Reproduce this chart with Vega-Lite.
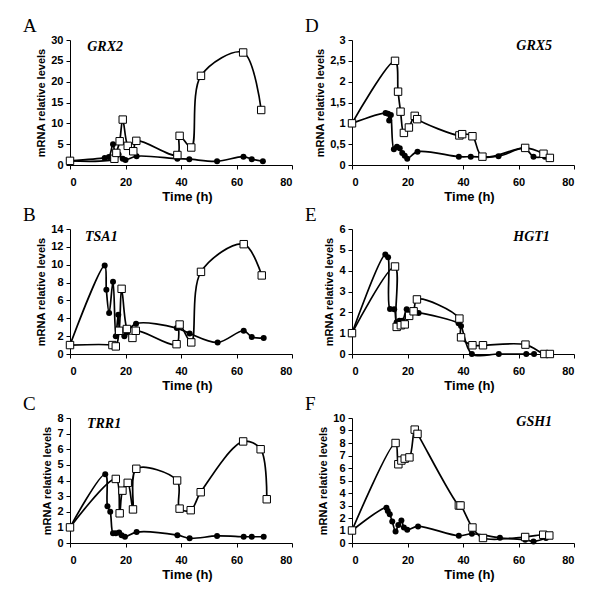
{
  "$schema": "https://vega.github.io/schema/vega-lite/v6.json",
  "background": "white",
  "padding": {"left": 23, "top": 17, "right": 2, "bottom": 2},
  "datasets": {
    "A": [
      {"series": "closed", "time": 0, "level": 1}, {"series": "closed", "time": 12.5, "level": 1.7}, {"series": "closed", "time": 14, "level": 1.9}, {"series": "closed", "time": 15.5, "level": 5}, {"series": "closed", "time": 16.5, "level": 2.1}, {"series": "closed", "time": 17.5, "level": 2.5}, {"series": "closed", "time": 19, "level": 1.5}, {"series": "closed", "time": 20, "level": 1.2}, {"series": "closed", "time": 24, "level": 2.1}, {"series": "closed", "time": 38.7, "level": 1.5}, {"series": "closed", "time": 43, "level": 1.4}, {"series": "closed", "time": 53, "level": 0.9}, {"series": "closed", "time": 62.5, "level": 2.0}, {"series": "closed", "time": 65.5, "level": 1.4}, {"series": "closed", "time": 69.5, "level": 0.9},
      {"series": "open", "time": 0, "level": 1}, {"series": "open", "time": 16, "level": 1.5}, {"series": "open", "time": 16.7, "level": 2.9}, {"series": "open", "time": 17.9, "level": 5.7}, {"series": "open", "time": 19, "level": 10.9}, {"series": "open", "time": 20.8, "level": 4.6}, {"series": "open", "time": 22.8, "level": 3.3}, {"series": "open", "time": 23.9, "level": 5.8}, {"series": "open", "time": 38.7, "level": 2.4}, {"series": "open", "time": 39.5, "level": 7.0}, {"series": "open", "time": 43.7, "level": 4.2}, {"series": "open", "time": 47.2, "level": 21.4}, {"series": "open", "time": 62.4, "level": 27}, {"series": "open", "time": 68.9, "level": 13.2}
    ],
    "B": [
      {"series": "closed", "time": 0, "level": 1}, {"series": "closed", "time": 12.5, "level": 9.9}, {"series": "closed", "time": 13.1, "level": 7.2}, {"series": "closed", "time": 14.1, "level": 4.6}, {"series": "closed", "time": 15.5, "level": 8.1}, {"series": "closed", "time": 16.5, "level": 2.0}, {"series": "closed", "time": 17.4, "level": 4.4}, {"series": "closed", "time": 18, "level": 2.6}, {"series": "closed", "time": 19.6, "level": 2.0}, {"series": "closed", "time": 20.5, "level": 2.4}, {"series": "closed", "time": 23.8, "level": 3.4}, {"series": "closed", "time": 38.5, "level": 2.9}, {"series": "closed", "time": 43.1, "level": 2.3}, {"series": "closed", "time": 53.2, "level": 1.3}, {"series": "closed", "time": 62.6, "level": 2.6}, {"series": "closed", "time": 65.5, "level": 1.9}, {"series": "closed", "time": 69.8, "level": 1.8},
      {"series": "open", "time": 0, "level": 1}, {"series": "open", "time": 15.3, "level": 1.0}, {"series": "open", "time": 16.5, "level": 0.85}, {"series": "open", "time": 17.7, "level": 2.6}, {"series": "open", "time": 18.6, "level": 7.3}, {"series": "open", "time": 20.5, "level": 2.8}, {"series": "open", "time": 22.5, "level": 1.8}, {"series": "open", "time": 23.7, "level": 2.6}, {"series": "open", "time": 38.4, "level": 1.1}, {"series": "open", "time": 39.5, "level": 3.3}, {"series": "open", "time": 43.7, "level": 1.3}, {"series": "open", "time": 47.2, "level": 9.2}, {"series": "open", "time": 62.6, "level": 12.3}, {"series": "open", "time": 69.1, "level": 8.8}
    ],
    "C": [
      {"series": "closed", "time": 0, "level": 1}, {"series": "closed", "time": 12.7, "level": 4.4}, {"series": "closed", "time": 13.5, "level": 2.35}, {"series": "closed", "time": 14.5, "level": 2.0}, {"series": "closed", "time": 15.5, "level": 0.62}, {"series": "closed", "time": 16.5, "level": 0.62}, {"series": "closed", "time": 17.7, "level": 0.67}, {"series": "closed", "time": 18.6, "level": 0.5}, {"series": "closed", "time": 19.8, "level": 0.4}, {"series": "closed", "time": 24, "level": 0.7}, {"series": "closed", "time": 38.7, "level": 0.5}, {"series": "closed", "time": 43.1, "level": 0.3}, {"series": "closed", "time": 53, "level": 0.45}, {"series": "closed", "time": 62.6, "level": 0.4}, {"series": "closed", "time": 65.5, "level": 0.4}, {"series": "closed", "time": 69.8, "level": 0.4},
      {"series": "open", "time": 0, "level": 1}, {"series": "open", "time": 16.5, "level": 4.1}, {"series": "open", "time": 17.9, "level": 1.9}, {"series": "open", "time": 18.9, "level": 3.35}, {"series": "open", "time": 20.8, "level": 3.85}, {"series": "open", "time": 22.7, "level": 2.15}, {"series": "open", "time": 23.9, "level": 4.75}, {"series": "open", "time": 38.6, "level": 4.0}, {"series": "open", "time": 39.5, "level": 2.2}, {"series": "open", "time": 43.5, "level": 2.1}, {"series": "open", "time": 47.1, "level": 3.25}, {"series": "open", "time": 62.4, "level": 6.5}, {"series": "open", "time": 68.7, "level": 6.0}, {"series": "open", "time": 70.9, "level": 2.8}
    ],
    "D": [
      {"series": "closed", "time": 0, "level": 1}, {"series": "closed", "time": 12.1, "level": 1.25}, {"series": "closed", "time": 13, "level": 1.23}, {"series": "closed", "time": 13.4, "level": 1.07}, {"series": "closed", "time": 14, "level": 1.2}, {"series": "closed", "time": 15.1, "level": 0.38}, {"series": "closed", "time": 16.2, "level": 0.44}, {"series": "closed", "time": 17.2, "level": 0.4}, {"series": "closed", "time": 18.1, "level": 0.29}, {"series": "closed", "time": 19, "level": 0.22}, {"series": "closed", "time": 19.9, "level": 0.15}, {"series": "closed", "time": 23.6, "level": 0.32}, {"series": "closed", "time": 38.5, "level": 0.2}, {"series": "closed", "time": 42.8, "level": 0.2}, {"series": "closed", "time": 52.8, "level": 0.21}, {"series": "closed", "time": 62.2, "level": 0.4}, {"series": "closed", "time": 65.4, "level": 0.2}, {"series": "closed", "time": 69.5, "level": 0.2},
      {"series": "open", "time": 0, "level": 1}, {"series": "open", "time": 15.5, "level": 2.5}, {"series": "open", "time": 16.6, "level": 1.76}, {"series": "open", "time": 17.5, "level": 1.28}, {"series": "open", "time": 18.7, "level": 0.77}, {"series": "open", "time": 20.5, "level": 0.9}, {"series": "open", "time": 22.6, "level": 1.18}, {"series": "open", "time": 23.5, "level": 1.1}, {"series": "open", "time": 38.7, "level": 0.71}, {"series": "open", "time": 39.7, "level": 0.74}, {"series": "open", "time": 43.4, "level": 0.69}, {"series": "open", "time": 47, "level": 0.2}, {"series": "open", "time": 62.4, "level": 0.41}, {"series": "open", "time": 69, "level": 0.27}, {"series": "open", "time": 71.3, "level": 0.17}
    ],
    "E": [
      {"series": "closed", "time": 0, "level": 1}, {"series": "closed", "time": 12, "level": 4.78}, {"series": "closed", "time": 13, "level": 4.65}, {"series": "closed", "time": 13.7, "level": 2.16}, {"series": "closed", "time": 15.2, "level": 2.15}, {"series": "closed", "time": 16.1, "level": 1.52}, {"series": "closed", "time": 17.1, "level": 1.6}, {"series": "closed", "time": 18.2, "level": 1.6}, {"series": "closed", "time": 19.7, "level": 2.15}, {"series": "closed", "time": 20.6, "level": 1.95}, {"series": "closed", "time": 24, "level": 1.97}, {"series": "closed", "time": 38.4, "level": 1.48}, {"series": "closed", "time": 39.3, "level": 1.35}, {"series": "closed", "time": 43.2, "level": 0}, {"series": "closed", "time": 52.9, "level": 0}, {"series": "closed", "time": 62.8, "level": 0}, {"series": "closed", "time": 65.6, "level": 0},
      {"series": "open", "time": 0, "level": 1}, {"series": "open", "time": 15.5, "level": 4.2}, {"series": "open", "time": 16.1, "level": 1.3}, {"series": "open", "time": 17.6, "level": 1.38}, {"series": "open", "time": 19, "level": 1.42}, {"series": "open", "time": 20.6, "level": 1.83}, {"series": "open", "time": 22.2, "level": 2.05}, {"series": "open", "time": 23.4, "level": 2.62}, {"series": "open", "time": 38.7, "level": 1.7}, {"series": "open", "time": 39.3, "level": 0.8}, {"series": "open", "time": 43.4, "level": 0.42}, {"series": "open", "time": 47.2, "level": 0.42}, {"series": "open", "time": 62.5, "level": 0.45}, {"series": "open", "time": 69.3, "level": 0}, {"series": "open", "time": 71.3, "level": 0}
    ],
    "F": [
      {"series": "closed", "time": 0, "level": 1}, {"series": "closed", "time": 12.4, "level": 2.83}, {"series": "closed", "time": 12.9, "level": 2.57}, {"series": "closed", "time": 13.6, "level": 2.3}, {"series": "closed", "time": 14.5, "level": 1.72}, {"series": "closed", "time": 15.7, "level": 0.93}, {"series": "closed", "time": 16.7, "level": 1.45}, {"series": "closed", "time": 17.8, "level": 1.8}, {"series": "closed", "time": 18.7, "level": 1.25}, {"series": "closed", "time": 19.9, "level": 1.06}, {"series": "closed", "time": 23.8, "level": 1.33}, {"series": "closed", "time": 38.5, "level": 0.58}, {"series": "closed", "time": 43.2, "level": 0.74}, {"series": "closed", "time": 53.3, "level": 0.42}, {"series": "closed", "time": 62.4, "level": 0.26}, {"series": "closed", "time": 65.4, "level": 0.13}, {"series": "closed", "time": 69.9, "level": 0.4},
      {"series": "open", "time": 0, "level": 1}, {"series": "open", "time": 15.7, "level": 8.0}, {"series": "open", "time": 16.7, "level": 6.3}, {"series": "open", "time": 17.8, "level": 6.6}, {"series": "open", "time": 19, "level": 6.75}, {"series": "open", "time": 20.7, "level": 6.85}, {"series": "open", "time": 22.6, "level": 9.07}, {"series": "open", "time": 23.6, "level": 8.73}, {"series": "open", "time": 38.5, "level": 3.0}, {"series": "open", "time": 39.1, "level": 3.0}, {"series": "open", "time": 43.4, "level": 1.24}, {"series": "open", "time": 47.2, "level": 0.4}, {"series": "open", "time": 62.4, "level": 0.48}, {"series": "open", "time": 68.9, "level": 0.66}, {"series": "open", "time": 71.1, "level": 0.6}
    ]
  },
  "columns": 2,
  "spacing": {"row": 64, "column": 60},
  "bounds": "flush",
  "concat": [
    {
      "width": 222, "height": 125,
      "title": {"text": "A"},
      "data": {"name": "A"},
      "encoding": {
        "x": {"field": "time", "type": "quantitative", "title": "Time (h)", "scale": {"domain": [0, 80], "nice": false}, "axis": {"values": [0, 20, 40, 60, 80]}},
        "y": {"field": "level", "type": "quantitative", "title": "mRNA relative levels", "scale": {"domain": [0, 30], "nice": false}, "axis": {"values": [0, 5, 10, 15, 20, 25, 30], "labelExpr": "replace(format(datum.value, ''), '.', ',')"}}
      },
      "layer": [
        {"mark": {"type": "line", "interpolate": "catmull-rom", "color": "black", "strokeWidth": 1.7}, "encoding": {"detail": {"field": "series"}}},
        {"transform": [{"filter": "datum.series === 'closed'"}], "mark": {"type": "point", "shape": "circle", "filled": true, "color": "black", "size": 36, "opacity": 1}},
        {"transform": [{"filter": "datum.series === 'open'"}], "mark": {"type": "point", "shape": "square", "filled": true, "fill": "white", "stroke": "black", "strokeWidth": 1, "size": 55, "opacity": 1}},
        {"transform": [{"filter": "datum.series === 'open' && datum.time === 0"}], "mark": {"type": "text", "align": "left", "baseline": "alphabetic", "font": "Liberation Serif", "fontStyle": "italic", "fontWeight": "bold", "fontSize": 14, "color": "black", "opacity": 1},
         "encoding": {"x": {"datum": 6.2, "type": "quantitative"}, "y": {"datum": 27.3, "type": "quantitative"}, "text": {"value": "GRX2"}}}
      ]
    },
    {
      "width": 222, "height": 125,
      "title": {"text": "D"},
      "data": {"name": "D"},
      "encoding": {
        "x": {"field": "time", "type": "quantitative", "title": "Time (h)", "scale": {"domain": [0, 80], "nice": false}, "axis": {"values": [0, 20, 40, 60, 80]}},
        "y": {"field": "level", "type": "quantitative", "title": "mRNA relative levels", "scale": {"domain": [0, 3], "nice": false}, "axis": {"values": [0, 0.5, 1, 1.5, 2, 2.5, 3], "labelExpr": "replace(format(datum.value, ''), '.', ',')"}}
      },
      "layer": [
        {"mark": {"type": "line", "interpolate": "catmull-rom", "color": "black", "strokeWidth": 1.7}, "encoding": {"detail": {"field": "series"}}},
        {"transform": [{"filter": "datum.series === 'closed'"}], "mark": {"type": "point", "shape": "circle", "filled": true, "color": "black", "size": 36, "opacity": 1}},
        {"transform": [{"filter": "datum.series === 'open'"}], "mark": {"type": "point", "shape": "square", "filled": true, "fill": "white", "stroke": "black", "strokeWidth": 1, "size": 55, "opacity": 1}},
        {"transform": [{"filter": "datum.series === 'open' && datum.time === 0"}], "mark": {"type": "text", "align": "right", "baseline": "alphabetic", "font": "Liberation Serif", "fontStyle": "italic", "fontWeight": "bold", "fontSize": 14, "color": "black", "opacity": 1},
         "encoding": {"x": {"datum": 72.1, "type": "quantitative"}, "y": {"datum": 2.75, "type": "quantitative"}, "text": {"value": "GRX5"}}}
      ]
    },
    {
      "width": 222, "height": 125,
      "title": {"text": "B"},
      "data": {"name": "B"},
      "encoding": {
        "x": {"field": "time", "type": "quantitative", "title": "Time (h)", "scale": {"domain": [0, 80], "nice": false}, "axis": {"values": [0, 20, 40, 60, 80]}},
        "y": {"field": "level", "type": "quantitative", "title": "mRNA relative levels", "scale": {"domain": [0, 14], "nice": false}, "axis": {"values": [0, 2, 4, 6, 8, 10, 12, 14], "labelExpr": "replace(format(datum.value, ''), '.', ',')"}}
      },
      "layer": [
        {"mark": {"type": "line", "interpolate": "catmull-rom", "color": "black", "strokeWidth": 1.7}, "encoding": {"detail": {"field": "series"}}},
        {"transform": [{"filter": "datum.series === 'closed'"}], "mark": {"type": "point", "shape": "circle", "filled": true, "color": "black", "size": 36, "opacity": 1}},
        {"transform": [{"filter": "datum.series === 'open'"}], "mark": {"type": "point", "shape": "square", "filled": true, "fill": "white", "stroke": "black", "strokeWidth": 1, "size": 55, "opacity": 1}},
        {"transform": [{"filter": "datum.series === 'open' && datum.time === 0"}], "mark": {"type": "text", "align": "left", "baseline": "alphabetic", "font": "Liberation Serif", "fontStyle": "italic", "fontWeight": "bold", "fontSize": 14, "color": "black", "opacity": 1},
         "encoding": {"x": {"datum": 5.4, "type": "quantitative"}, "y": {"datum": 12.7, "type": "quantitative"}, "text": {"value": "TSA1"}}}
      ]
    },
    {
      "width": 222, "height": 125,
      "title": {"text": "E"},
      "data": {"name": "E"},
      "encoding": {
        "x": {"field": "time", "type": "quantitative", "title": "Time (h)", "scale": {"domain": [0, 80], "nice": false}, "axis": {"values": [0, 20, 40, 60, 80]}},
        "y": {"field": "level", "type": "quantitative", "title": "mRNA relative levels", "scale": {"domain": [0, 6], "nice": false}, "axis": {"values": [0, 1, 2, 3, 4, 5, 6], "labelExpr": "replace(format(datum.value, ''), '.', ',')"}}
      },
      "layer": [
        {"mark": {"type": "line", "interpolate": "catmull-rom", "color": "black", "strokeWidth": 1.7}, "encoding": {"detail": {"field": "series"}}},
        {"transform": [{"filter": "datum.series === 'closed'"}], "mark": {"type": "point", "shape": "circle", "filled": true, "color": "black", "size": 36, "opacity": 1}},
        {"transform": [{"filter": "datum.series === 'open'"}], "mark": {"type": "point", "shape": "square", "filled": true, "fill": "white", "stroke": "black", "strokeWidth": 1, "size": 55, "opacity": 1}},
        {"transform": [{"filter": "datum.series === 'open' && datum.time === 0"}], "mark": {"type": "text", "align": "right", "baseline": "alphabetic", "font": "Liberation Serif", "fontStyle": "italic", "fontWeight": "bold", "fontSize": 14, "color": "black", "opacity": 1},
         "encoding": {"x": {"datum": 71.3, "type": "quantitative"}, "y": {"datum": 5.44, "type": "quantitative"}, "text": {"value": "HGT1"}}}
      ]
    },
    {
      "width": 222, "height": 125,
      "title": {"text": "C"},
      "data": {"name": "C"},
      "encoding": {
        "x": {"field": "time", "type": "quantitative", "title": "Time (h)", "scale": {"domain": [0, 80], "nice": false}, "axis": {"values": [0, 20, 40, 60, 80]}},
        "y": {"field": "level", "type": "quantitative", "title": "mRNA relative levels", "scale": {"domain": [0, 8], "nice": false}, "axis": {"values": [0, 1, 2, 3, 4, 5, 6, 7, 8], "labelExpr": "replace(format(datum.value, ''), '.', ',')"}}
      },
      "layer": [
        {"mark": {"type": "line", "interpolate": "catmull-rom", "color": "black", "strokeWidth": 1.7}, "encoding": {"detail": {"field": "series"}}},
        {"transform": [{"filter": "datum.series === 'closed'"}], "mark": {"type": "point", "shape": "circle", "filled": true, "color": "black", "size": 36, "opacity": 1}},
        {"transform": [{"filter": "datum.series === 'open'"}], "mark": {"type": "point", "shape": "square", "filled": true, "fill": "white", "stroke": "black", "strokeWidth": 1, "size": 55, "opacity": 1}},
        {"transform": [{"filter": "datum.series === 'open' && datum.time === 0"}], "mark": {"type": "text", "align": "left", "baseline": "alphabetic", "font": "Liberation Serif", "fontStyle": "italic", "fontWeight": "bold", "fontSize": 14, "color": "black", "opacity": 1},
         "encoding": {"x": {"datum": 6.1, "type": "quantitative"}, "y": {"datum": 7.33, "type": "quantitative"}, "text": {"value": "TRR1"}}}
      ]
    },
    {
      "width": 222, "height": 125,
      "title": {"text": "F"},
      "data": {"name": "F"},
      "encoding": {
        "x": {"field": "time", "type": "quantitative", "title": "Time (h)", "scale": {"domain": [0, 80], "nice": false}, "axis": {"values": [0, 20, 40, 60, 80]}},
        "y": {"field": "level", "type": "quantitative", "title": "mRNA relative levels", "scale": {"domain": [0, 10], "nice": false}, "axis": {"values": [0, 1, 2, 3, 4, 5, 6, 7, 8, 9, 10], "labelExpr": "replace(format(datum.value, ''), '.', ',')"}}
      },
      "layer": [
        {"mark": {"type": "line", "interpolate": "catmull-rom", "color": "black", "strokeWidth": 1.7}, "encoding": {"detail": {"field": "series"}}},
        {"transform": [{"filter": "datum.series === 'closed'"}], "mark": {"type": "point", "shape": "circle", "filled": true, "color": "black", "size": 36, "opacity": 1}},
        {"transform": [{"filter": "datum.series === 'open'"}], "mark": {"type": "point", "shape": "square", "filled": true, "fill": "white", "stroke": "black", "strokeWidth": 1, "size": 55, "opacity": 1}},
        {"transform": [{"filter": "datum.series === 'open' && datum.time === 0"}], "mark": {"type": "text", "align": "right", "baseline": "alphabetic", "font": "Liberation Serif", "fontStyle": "italic", "fontWeight": "bold", "fontSize": 14, "color": "black", "opacity": 1},
         "encoding": {"x": {"datum": 72.1, "type": "quantitative"}, "y": {"datum": 9.37, "type": "quantitative"}, "text": {"value": "GSH1"}}}
      ]
    }
  ],
  "config": {
    "view": {"stroke": null},
    "font": "Liberation Sans",
    "title": {"anchor": "start", "frame": "group", "dx": -47, "offset": -2, "baseline": "alphabetic", "font": "Liberation Serif", "fontSize": 19, "fontWeight": "normal", "color": "black"},
    "axis": {"grid": false, "domainColor": "black", "domainWidth": 1, "tickColor": "black", "tickSize": 4, "labelColor": "black", "labelFont": "Liberation Sans", "labelFontSize": 11, "labelFontWeight": "bold", "titleColor": "black", "titleFont": "Liberation Sans", "titleFontWeight": "bold"},
    "axisX": {"labelPadding": 7, "titleFontSize": 13, "titlePadding": 3, "titleX": 117},
    "axisY": {"labelPadding": 3, "titleFontSize": 11, "titlePadding": 4}
  }
}
